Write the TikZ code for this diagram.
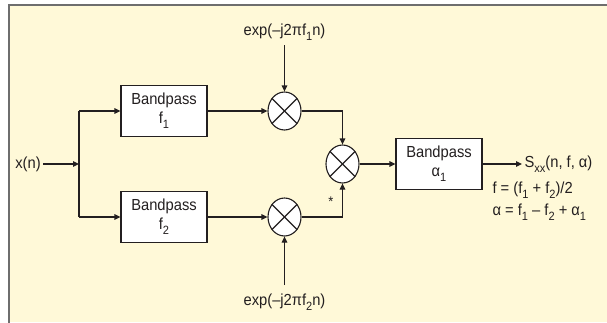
\documentclass[tikz,border=0pt]{standalone}
\usepackage{fontspec}
\setmainfont[FakeStretch=0.92]{Liberation Sans}
\usetikzlibrary{arrows.meta,shapes.geometric}
\definecolor{paper}{RGB}{255,249,216}
\definecolor{framegray}{RGB}{110,110,110}
\definecolor{ink}{RGB}{35,31,32}
% lowered subscript in text font
\newcommand{\lo}[1]{\raisebox{-0.3em}{\fontsize{12}{12}\selectfont #1}}

\begin{document}
\begin{tikzpicture}[x=1pt,y=-1pt,
  line width=1.1pt, draw=ink,
  txt/.style={inner sep=2pt, font=\fontsize{16}{19}\selectfont, text=ink},
  bp/.style={draw=ink, fill=white, rectangle, minimum width=86pt, minimum height=51pt,
             inner sep=0pt, align=center, font=\fontsize{16}{19}\selectfont, text=ink},
  mix/.style={draw=ink, fill=white, ellipse, minimum width=33pt, minimum height=38pt, inner sep=0pt},
  arr/.style={-{Triangle[length=6pt,width=5.5pt]}}]
\useasboundingbox (0,0) rectangle (607,322);
\fill[white] (0,0) rectangle (607,322);
\fill[paper] (9,5) rectangle (607,322);
\draw[framegray, line width=1.5pt] (9,330) -- (9,5) -- (615,5);

% input and splitting junction
\node[txt] (x) at (28,164) {x(n)};
\coordinate (j) at (79,164);
\coordinate (jt) at (79,111);
\coordinate (jb) at (79,217);

% filters
\node[bp] (b1) at (164,111) {Bandpass\\f\lo{1}};
\node[bp] (b2) at (164,217) {Bandpass\\f\lo{2}};
\node[bp] (b3) at (439,164) {Bandpass\\α\lo{1}};

% multipliers
\node[mix] (m1) at (284.5,111) {};
\node[mix] (m2) at (284.5,217) {};
\node[mix] (m3) at (342.5,164) {};
\foreach \m in {m1,m2,m3}{
  \draw (\m.45) -- (\m.225);
  \draw (\m.135) -- (\m.315);
}

% oscillator inputs
\node[txt] (e1) at (284.5,32) {exp(–j2πf\lo{1}n)};
\node[txt] (e2) at (284.5,302) {exp(–j2πf\lo{2}n)};
\coordinate (e1b) at (284.5,45);
\coordinate (e2t) at (284.5,285);

% output and relations
\node[txt, anchor=west] (s) at (522,164) {S\lo{xx}(n, f, α)};
\node[txt, anchor=west] (fr) at (490,190) {f = (f\lo{1} + f\lo{2})/2};
\node[txt, anchor=west] (ar) at (490,212) {α = f\lo{1} – f\lo{2} + α\lo{1}};
\node[txt, font=\fontsize{14}{14}\selectfont] (star) at (331,202) {*};

% connectors
\draw[arr] (x) -- (j);
\draw (jt) -- (jb);
\draw[arr] (jt) -- (b1);
\draw[arr] (jb) -- (b2);
\draw[arr] (b1) -- (m1);
\draw[arr] (b2) -- (m2);
\draw[arr] (e1b) -- (m1);
\draw[arr] (e2t) -- (m2);
\draw[arr] (m1) -| (m3);
\draw[arr] (m2) -| (m3);
\draw[arr] (m3) -- (b3);
\draw[arr] (b3) -- (s);
\end{tikzpicture}
\end{document}
